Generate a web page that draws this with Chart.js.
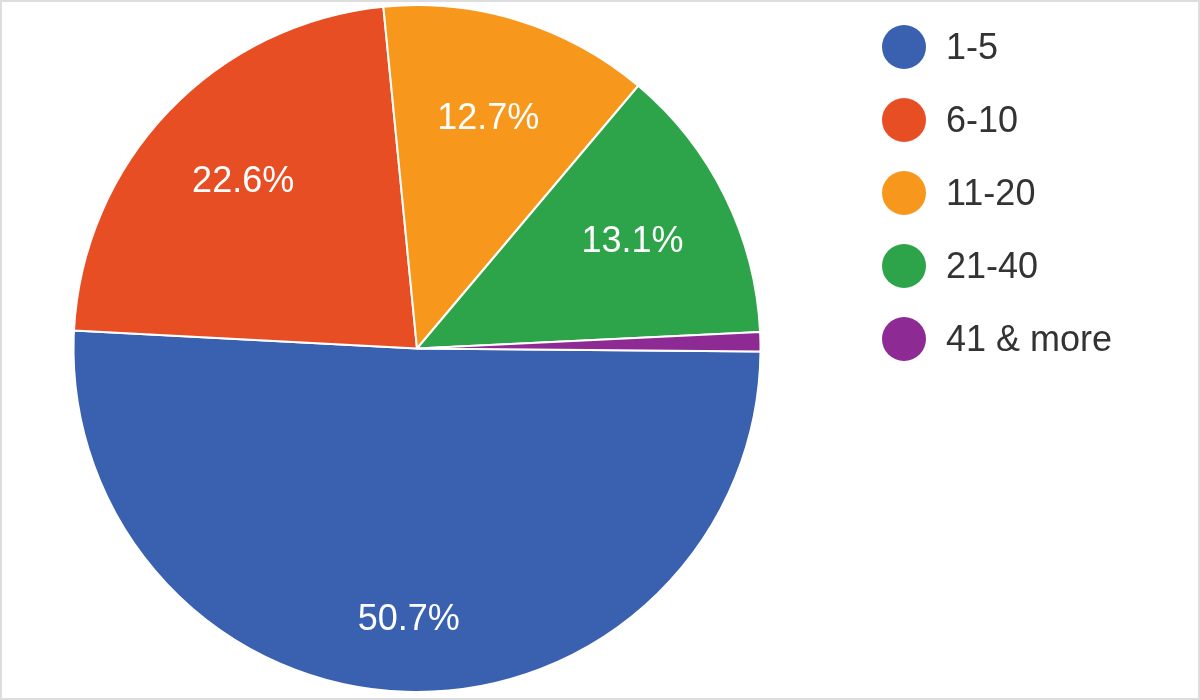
<!DOCTYPE html>
<html lang="en">
<head>
    <meta charset="UTF-8">
    <title>Pie</title>
    <script src="https://cdn.jsdelivr.net/npm/chart.js"></script>
    <style>
        body { margin: 0; background: #fff; font-family: 'Liberation Sans', Arial, sans-serif; }
        #wrap { position: relative; width: 1200px; height: 700px; box-sizing: border-box; border: 2px solid #ddd; }
        canvas { position: absolute; left: 0; top: 0; }
        #legend { position: absolute; left: 880px; top: 8px; list-style: none; margin: 0; padding: 0; }
        #legend li { height: 73px; display: flex; align-items: center; font-size: 36px; color: #333; }
        #legend span.dot { width: 44px; height: 44px; border-radius: 50%; margin-right: 20px; display: inline-block; }
    </style>
</head>
<body>
<div id="wrap">
    <canvas id="pie" width="1196" height="696"></canvas>
    <ul id="legend"></ul>
</div>
<script>
    const categories = ['1-5', '6-10', '11-20', '21-40', '41 & more'];
    const shares = [50.7, 22.6, 12.7, 13.1, 0.9];
    const colors = ['#3961b0', '#e84e24', '#f7981d', '#2ea44a', '#8e2a94'];

    const labelPlugin = {
        id: 'sliceLabels',
        afterDatasetsDraw(chart) {
            const ctx = chart.ctx;
            const meta = chart.getDatasetMeta(0);
            ctx.save();
            ctx.fillStyle = '#fff';
            ctx.font = '36px "Liberation Sans", Arial, sans-serif';
            ctx.textAlign = 'center';
            ctx.textBaseline = 'middle';
            meta.data.forEach((arc, i) => {
                if (shares[i] < 5) return;
                const mid = (arc.startAngle + arc.endAngle) / 2;
                const r = arc.outerRadius * (shares[i] > 40 ? 0.79 : 0.7);
                ctx.fillText(shares[i].toFixed(1) + '%', arc.x + Math.cos(mid) * r, arc.y + Math.sin(mid) * r);
            });
            ctx.restore();
        }
    };

    new Chart(document.getElementById('pie'), {
        type: 'pie',
        data: {
            labels: categories,
            datasets: [{ data: shares, backgroundColor: colors, borderColor: '#fff', borderWidth: 2 }]
        },
        options: {
            responsive: false,
            animation: false,
            rotation: 90.5,
            layout: { padding: { top: 2, bottom: 5, left: 70, right: 436 } },
            plugins: { legend: { display: false }, tooltip: { enabled: false } }
        },
        plugins: [labelPlugin]
    });

    const legend = document.getElementById('legend');
    categories.forEach((c, i) => {
        const li = document.createElement('li');
        li.innerHTML = '<span class="dot" style="background:' + colors[i] + '"></span>' + c;
        legend.appendChild(li);
    });
</script>
</body>
</html>
